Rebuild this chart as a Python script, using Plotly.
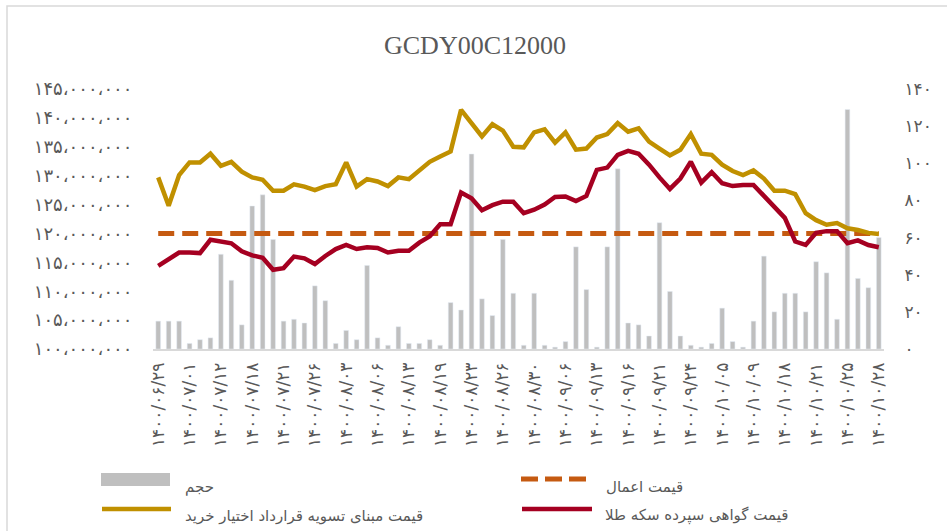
import plotly.graph_objects as go

# ---- data -------------------------------------------------------------
tick_labels = [
    "۱۴۰۰/۰۶/۲۹", "۱۴۰۰/۰۷/۰۱", "۱۴۰۰/۰۷/۱۲", "۱۴۰۰/۰۷/۱۸", "۱۴۰۰/۰۷/۲۱",
    "۱۴۰۰/۰۷/۲۶", "۱۴۰۰/۰۸/۰۳", "۱۴۰۰/۰۸/۰۶", "۱۴۰۰/۰۸/۱۳", "۱۴۰۰/۰۸/۱۹",
    "۱۴۰۰/۰۸/۲۳", "۱۴۰۰/۰۸/۲۶", "۱۴۰۰/۰۸/۳۰", "۱۴۰۰/۰۹/۰۶", "۱۴۰۰/۰۹/۱۳",
    "۱۴۰۰/۰۹/۱۶", "۱۴۰۰/۰۹/۲۱", "۱۴۰۰/۰۹/۲۴", "۱۴۰۰/۱۰/۰۵", "۱۴۰۰/۱۰/۰۹",
    "۱۴۰۰/۱۰/۱۸", "۱۴۰۰/۱۰/۲۱", "۱۴۰۰/۱۰/۲۵", "۱۴۰۰/۱۰/۲۸",
]
label_step = 3  # one date label for every third trading day

# trading volume (contracts)
volume = [
    15, 15, 15, 3, 5, 6, 51, 37, 13, 77,
    83, 59, 15, 16, 14, 34, 26, 3, 10, 5,
    45, 6, 2, 12, 3, 3, 5, 2, 25, 21,
    105, 27, 18, 59, 30, 2, 30, 2, 1, 4,
    55, 32, 1, 55, 97, 14, 13, 7, 68, 31,
    7, 2, 1, 3, 22, 4, 1, 15, 50, 20,
    30, 30, 20, 47, 41, 16, 129, 38, 33, 60,
]

# call option settlement price (million rials)
settle_price_m = [
    129.7, 124.8, 130.1, 132.3, 132.3, 133.8, 131.7, 132.4, 130.7, 129.7,
    129.3, 127.4, 127.4, 128.5, 128.1, 127.5, 128.2, 128.5, 132.3, 128.1,
    129.4, 129.0, 128.2, 129.7, 129.4, 131.0, 132.4, 133.3, 134.2, 141.4,
    139.2, 136.8, 138.9, 137.8, 135.0, 134.9, 137.5, 138.0, 135.7, 137.5,
    134.5, 134.7, 136.6, 137.2, 139.1, 137.6, 138.2, 135.9, 134.7, 133.5,
    134.5, 137.2, 133.8, 133.6, 131.9, 130.8, 130.1, 130.9, 129.5, 127.4,
    127.4, 126.8, 123.5, 122.3, 121.5, 121.8, 120.9, 120.6, 120.1, 119.9,
]

# gold coin deposit certificate price (million rials)
coin_price_m = [
    114.4, 115.5, 116.7, 116.7, 116.6, 118.9, 118.5, 118.3, 116.9, 116.2,
    115.8, 113.7, 114.0, 116.0, 115.7, 114.7, 116.1, 117.3, 118.0, 117.3,
    117.6, 117.5, 116.7, 117.0, 117.0, 118.4, 119.5, 121.6, 121.6, 127.1,
    126.1, 124.0, 124.9, 125.5, 125.5, 123.5, 124.1, 125.0, 126.3, 126.4,
    125.6, 126.5, 131.0, 131.4, 133.6, 134.3, 133.8, 131.9, 129.7, 127.7,
    129.5, 132.4, 128.8, 130.6, 128.7, 128.2, 128.4, 128.4, 126.5, 124.6,
    122.7, 118.6, 118.0, 120.1, 120.4, 120.4, 118.3, 118.8, 118.0, 117.6,
]

strike_price = 120_000_000

price_ticks = list(range(100_000_000, 145_000_001, 5_000_000))
volume_ticks = list(range(0, 141, 20))

# ---- helpers ----------------------------------------------------------
FA_DIGITS = str.maketrans("0123456789,", "۰۱۲۳۴۵۶۷۸۹،")


def fa(num_text):
    return num_text.translate(FA_DIGITS)


n = len(volume)
x = list(range(n))
settle = [v * 1_000_000 for v in settle_price_m]
coin = [v * 1_000_000 for v in coin_price_m]

W, H = 947, 531
L, R, T, B = 153, 63, 89, 182
PW, PH = W - L - R, H - T - B


def px(xp):
    return (xp - L) / PW


def py(yp):
    return (H - B - yp) / PH


GRAY_TXT = "#595959"
BAR_C = "#BFBFBF"
GOLD_C = "#C09000"
RED_C = "#A50021"
ORANGE_C = "#C55A11"
FA_FONT = "DejaVu Sans"

fig = go.Figure()

fig.add_trace(go.Bar(
    x=x, y=volume, name="حجم", marker_color=BAR_C, yaxis="y",
))
fig.add_trace(go.Scatter(
    x=x, y=[strike_price] * n, name="قیمت اعمال", mode="lines",
    line=dict(color=ORANGE_C, width=5, dash="16px,8px"), yaxis="y2",
))
fig.add_trace(go.Scatter(
    x=x, y=settle, name="قیمت مبنای تسویه قرارداد اختیار خرید", mode="lines",
    line=dict(color=GOLD_C, width=4.5), yaxis="y2",
))
fig.add_trace(go.Scatter(
    x=x, y=coin, name="قیمت گواهی سپرده سکه طلا", mode="lines",
    line=dict(color=RED_C, width=4.5), yaxis="y2",
))

# ---- legend drawn by hand (long symbols, two columns) ------------------
shapes = [
    dict(type="rect", xref="paper", yref="paper",
         x0=px(7), x1=px(960), y0=py(6), y1=py(560),
         line=dict(color="#D9D9D9", width=1.5), fillcolor="rgba(0,0,0,0)",
         layer="below"),
    dict(type="rect", xref="paper", yref="paper",
         x0=px(101), x1=px(170), y0=py(473), y1=py(486),
         line=dict(width=0), fillcolor=BAR_C),
    dict(type="line", xref="paper", yref="paper",
         x0=px(102), x1=px(171), y0=py(509), y1=py(509),
         line=dict(color=GOLD_C, width=4.5)),
    dict(type="line", xref="paper", yref="paper",
         x0=px(521), x1=px(586), y0=py(479), y1=py(479),
         line=dict(color=ORANGE_C, width=5, dash="17px,7px")),
    dict(type="line", xref="paper", yref="paper",
         x0=px(522), x1=px(592), y0=py(509), y1=py(509),
         line=dict(color=RED_C, width=4.5)),
]

legend_font = dict(family=FA_FONT, size=15, color=GRAY_TXT)
annotations = [
    dict(text="حجم", x=px(183), y=py(487)),
    dict(text="قیمت مبنای تسویه قرارداد اختیار خرید", x=px(183), y=py(516)),
    dict(text="قیمت اعمال", x=px(604), y=py(487)),
    dict(text="قیمت گواهی سپرده سکه طلا", x=px(603), y=py(515)),
]
for a in annotations:
    a.update(xref="paper", yref="paper", xanchor="left", yanchor="middle",
             showarrow=False, font=legend_font)

fig.update_layout(
    width=W, height=H,
    margin=dict(l=L, r=R, t=T, b=B),
    paper_bgcolor="white", plot_bgcolor="white",
    showlegend=False,
    bargap=0.55,
    title=dict(text="GCDY00C12000", x=475 / W, xref="container", xanchor="center",
               y=1 - 44.5 / H, yref="container", yanchor="middle",
               font=dict(family="Liberation Serif", size=26, color=GRAY_TXT)),
    xaxis=dict(
        range=[-0.5, n - 0.5],
        tickvals=[i * label_step for i in range(len(tick_labels))],
        ticktext=tick_labels, tickangle=-90,
        tickfont=dict(family=FA_FONT, size=17, color=GRAY_TXT),
        ticks="outside", ticklen=5, tickcolor="rgba(0,0,0,0)",
        showline=True, linecolor="#D9D9D9", linewidth=1.5,
        showgrid=False, zeroline=False,
    ),
    yaxis=dict(
        side="right", range=[0, 140],
        tickvals=volume_ticks, ticktext=[fa(str(v)) for v in volume_ticks],
        tickfont=dict(family=FA_FONT, size=17, color=GRAY_TXT),
        ticks="outside", ticklen=16, tickcolor="rgba(0,0,0,0)",
        showgrid=False, zeroline=False, showline=False,
    ),
    yaxis2=dict(
        overlaying="y", side="left", range=[100_000_000, 145_000_000],
        tickvals=price_ticks, ticktext=[fa(f"{v:,}") for v in price_ticks],
        tickfont=dict(family=FA_FONT, size=18, color=GRAY_TXT),
        ticks="outside", ticklen=16, tickcolor="rgba(0,0,0,0)",
        showgrid=False, zeroline=False, showline=False,
    ),
    shapes=shapes,
    annotations=annotations,
)

fig.write_html("out.html")
